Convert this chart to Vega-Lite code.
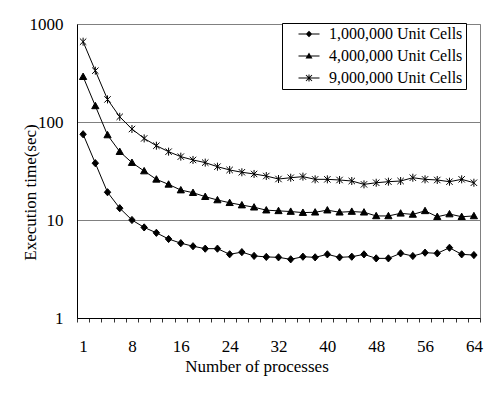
{
  "$schema": "https://vega.github.io/schema/vega-lite/v6.json",
  "autosize": "none",
  "width": 403,
  "height": 294,
  "padding": {"left": 77, "top": 24, "right": 20, "bottom": 79},
  "background": "white",
  "config": {
    "font": "Liberation Serif",
    "view": {"stroke": "#808080", "strokeWidth": 1},
    "legend": {"labelFont": "Liberation Serif", "titleFont": "Liberation Serif"},
    "axis": {"labelFont": "Liberation Serif", "titleFont": "Liberation Serif"}
  },
  "data": {"values": [
    {"p":1,"s":"1,000,000 Unit Cells","t":75},{"p":2,"s":"1,000,000 Unit Cells","t":38},{"p":4,"s":"1,000,000 Unit Cells","t":19.2},{"p":6,"s":"1,000,000 Unit Cells","t":13.2},{"p":8,"s":"1,000,000 Unit Cells","t":10},{"p":10,"s":"1,000,000 Unit Cells","t":8.4},{"p":12,"s":"1,000,000 Unit Cells","t":7.4},{"p":14,"s":"1,000,000 Unit Cells","t":6.4},{"p":16,"s":"1,000,000 Unit Cells","t":5.8},{"p":18,"s":"1,000,000 Unit Cells","t":5.4},{"p":20,"s":"1,000,000 Unit Cells","t":5.1},{"p":22,"s":"1,000,000 Unit Cells","t":5.1},{"p":24,"s":"1,000,000 Unit Cells","t":4.47},{"p":26,"s":"1,000,000 Unit Cells","t":4.7},{"p":28,"s":"1,000,000 Unit Cells","t":4.3},{"p":30,"s":"1,000,000 Unit Cells","t":4.2},{"p":32,"s":"1,000,000 Unit Cells","t":4.16},{"p":34,"s":"1,000,000 Unit Cells","t":3.97},{"p":36,"s":"1,000,000 Unit Cells","t":4.22},{"p":38,"s":"1,000,000 Unit Cells","t":4.16},{"p":40,"s":"1,000,000 Unit Cells","t":4.46},{"p":42,"s":"1,000,000 Unit Cells","t":4.16},{"p":44,"s":"1,000,000 Unit Cells","t":4.22},{"p":46,"s":"1,000,000 Unit Cells","t":4.46},{"p":48,"s":"1,000,000 Unit Cells","t":4.06},{"p":50,"s":"1,000,000 Unit Cells","t":4.06},{"p":52,"s":"1,000,000 Unit Cells","t":4.57},{"p":54,"s":"1,000,000 Unit Cells","t":4.29},{"p":56,"s":"1,000,000 Unit Cells","t":4.64},{"p":58,"s":"1,000,000 Unit Cells","t":4.57},{"p":60,"s":"1,000,000 Unit Cells","t":5.21},{"p":62,"s":"1,000,000 Unit Cells","t":4.46},{"p":64,"s":"1,000,000 Unit Cells","t":4.39},
    {"p":1,"s":"4,000,000 Unit Cells","t":290},{"p":2,"s":"4,000,000 Unit Cells","t":146},{"p":4,"s":"4,000,000 Unit Cells","t":73.7},{"p":6,"s":"4,000,000 Unit Cells","t":49.8},{"p":8,"s":"4,000,000 Unit Cells","t":38.5},{"p":10,"s":"4,000,000 Unit Cells","t":31.6},{"p":12,"s":"4,000,000 Unit Cells","t":26},{"p":14,"s":"4,000,000 Unit Cells","t":23.1},{"p":16,"s":"4,000,000 Unit Cells","t":20.2},{"p":18,"s":"4,000,000 Unit Cells","t":19},{"p":20,"s":"4,000,000 Unit Cells","t":17.3},{"p":22,"s":"4,000,000 Unit Cells","t":16},{"p":24,"s":"4,000,000 Unit Cells","t":15},{"p":26,"s":"4,000,000 Unit Cells","t":14.2},{"p":28,"s":"4,000,000 Unit Cells","t":13.5},{"p":30,"s":"4,000,000 Unit Cells","t":12.6},{"p":32,"s":"4,000,000 Unit Cells","t":12.4},{"p":34,"s":"4,000,000 Unit Cells","t":12.2},{"p":36,"s":"4,000,000 Unit Cells","t":11.9},{"p":38,"s":"4,000,000 Unit Cells","t":12},{"p":40,"s":"4,000,000 Unit Cells","t":12.6},{"p":42,"s":"4,000,000 Unit Cells","t":12},{"p":44,"s":"4,000,000 Unit Cells","t":12.2},{"p":46,"s":"4,000,000 Unit Cells","t":12},{"p":48,"s":"4,000,000 Unit Cells","t":11},{"p":50,"s":"4,000,000 Unit Cells","t":11},{"p":52,"s":"4,000,000 Unit Cells","t":11.7},{"p":54,"s":"4,000,000 Unit Cells","t":11.4},{"p":56,"s":"4,000,000 Unit Cells","t":12.4},{"p":58,"s":"4,000,000 Unit Cells","t":10.8},{"p":60,"s":"4,000,000 Unit Cells","t":11.5},{"p":62,"s":"4,000,000 Unit Cells","t":10.8},{"p":64,"s":"4,000,000 Unit Cells","t":11},
    {"p":1,"s":"9,000,000 Unit Cells","t":660},{"p":2,"s":"9,000,000 Unit Cells","t":334},{"p":4,"s":"9,000,000 Unit Cells","t":170},{"p":6,"s":"9,000,000 Unit Cells","t":113},{"p":8,"s":"9,000,000 Unit Cells","t":84.8},{"p":10,"s":"9,000,000 Unit Cells","t":68},{"p":12,"s":"9,000,000 Unit Cells","t":57.3},{"p":14,"s":"9,000,000 Unit Cells","t":49.8},{"p":16,"s":"9,000,000 Unit Cells","t":44.3},{"p":18,"s":"9,000,000 Unit Cells","t":41},{"p":20,"s":"9,000,000 Unit Cells","t":38.5},{"p":22,"s":"9,000,000 Unit Cells","t":35},{"p":24,"s":"9,000,000 Unit Cells","t":32.4},{"p":26,"s":"9,000,000 Unit Cells","t":30.7},{"p":28,"s":"9,000,000 Unit Cells","t":29.5},{"p":30,"s":"9,000,000 Unit Cells","t":28.1},{"p":32,"s":"9,000,000 Unit Cells","t":26.2},{"p":34,"s":"9,000,000 Unit Cells","t":27},{"p":36,"s":"9,000,000 Unit Cells","t":27.7},{"p":38,"s":"9,000,000 Unit Cells","t":26},{"p":40,"s":"9,000,000 Unit Cells","t":26},{"p":42,"s":"9,000,000 Unit Cells","t":25.6},{"p":44,"s":"9,000,000 Unit Cells","t":25},{"p":46,"s":"9,000,000 Unit Cells","t":23.1},{"p":48,"s":"9,000,000 Unit Cells","t":24},{"p":50,"s":"9,000,000 Unit Cells","t":24.6},{"p":52,"s":"9,000,000 Unit Cells","t":25},{"p":54,"s":"9,000,000 Unit Cells","t":27},{"p":56,"s":"9,000,000 Unit Cells","t":26},{"p":58,"s":"9,000,000 Unit Cells","t":25.6},{"p":60,"s":"9,000,000 Unit Cells","t":24.6},{"p":62,"s":"9,000,000 Unit Cells","t":26},{"p":64,"s":"9,000,000 Unit Cells","t":24}
  ]},
  "encoding": {
    "x": {
      "field": "p", "type": "ordinal", "sort": "ascending",
      "scale": {"type": "band", "paddingInner": 0, "paddingOuter": 0},
      "axis": {
        "title": "Number of processes",
        "labelExpr": "indexof([1,8,16,24,32,40,48,56,64], datum.value) >= 0 ? datum.label : ''",
        "labelAngle": 0, "labelFontSize": 17, "labelColor": "black", "labelPadding": 16,
        "tickBand": "extent", "tickSize": 4, "tickColor": "#333333", "tickWidth": 1,
        "encode": {"ticks": {"update": {"y2": {"value": -4}}}},
        "domainColor": "black", "domainWidth": 1,
        "grid": false,
        "titleFontSize": 17, "titleFontWeight": "normal", "titleColor": "black", "titlePadding": 4,
        "titleX": 179.5
      }
    },
    "y": {
      "field": "t", "type": "quantitative",
      "scale": {"type": "log", "domain": [1, 1000]},
      "axis": {
        "title": "Execution time(sec)",
        "values": [1, 10, 100, 1000], "format": "d",
        "labelFontSize": 17, "labelColor": "black", "labelPadding": 14,
        "ticks": false, "domainColor": "black", "domainWidth": 1,
        "grid": true, "gridColor": "#808080", "gridWidth": 1, "gridOpacity": 1,
        "titleFontSize": 17, "titleFontWeight": "normal", "titleColor": "black",
        "titleX": -47, "titleY": 168, "titleBaseline": "middle", "titleAlign": "center", "titleAngle": -90
      }
    }
  },
  "layer": [
    {
      "mark": {"type": "line", "color": "black", "strokeWidth": 1},
      "encoding": {"detail": {"field": "s", "type": "nominal"}}
    },
    {
      "mark": {"type": "point", "filled": true, "color": "black", "stroke": "black", "strokeWidth": 1, "opacity": 1, "size": 64},
      "encoding": {
        "shape": {
          "field": "s", "type": "nominal",
          "scale": {
            "domain": ["1,000,000 Unit Cells", "4,000,000 Unit Cells", "9,000,000 Unit Cells"],
            "range": ["M-0.8,0L0,-0.9L0.8,0L0,0.9Z", "M0,-0.9L0.9,0.7L-0.9,0.7Z", "M-0.8,-0.8L0.8,0.8M-0.8,0.8L0.8,-0.8M0,-1L0,1"]
          },
          "legend": null
        }
      }
    },
    {
      "transform": [{"filter": "false"}],
      "mark": {"type": "point", "filled": true, "color": "black", "opacity": 1},
      "encoding": {
        "shape": {
          "field": "s", "type": "nominal",
          "scale": {
            "domain": ["1,000,000 Unit Cells", "4,000,000 Unit Cells", "9,000,000 Unit Cells"],
            "range": [
              "M-2.1,-0.1L2.1,-0.1L2.1,0.1L-2.1,0.1ZM0,-0.65L0.65,0L0,0.65L-0.65,0Z",
              "M-2.1,-0.1L2.1,-0.1L2.1,0.1L-2.1,0.1ZM0,-0.7L0.7,0.5L-0.7,0.5Z",
              "M-2.1,-0.1L2.1,-0.1L2.1,0.1L-2.1,0.1ZM-0.1,-0.7L0.1,-0.7L0.1,0.7L-0.1,0.7ZM-0.53,-0.67L0.67,0.53L0.53,0.67L-0.67,-0.53ZM-0.67,0.53L0.53,-0.67L0.67,-0.53L-0.53,0.67Z"
            ]
          },
          "legend": {
            "title": null, "orient": "none", "legendX": 205, "legendY": -1,
            "strokeColor": "black", "fillColor": "white", "padding": 3,
            "labelFontSize": 16, "labelFont": "Liberation Serif", "labelColor": "black",
            "labelLimit": 400,
            "labelExpr": "datum.label + '\u00a0\u00a0\u00a0\u00a0'",
            "symbolSize": 100, "symbolOffset": 16, "labelOffset": 12, "rowPadding": 6,
            "symbolFillColor": "black", "symbolOpacity": 1
          }
        }
      }
    }
  ],
  "resolve": {"scale": {"shape": "independent"}, "legend": {"shape": "independent"}}
}
